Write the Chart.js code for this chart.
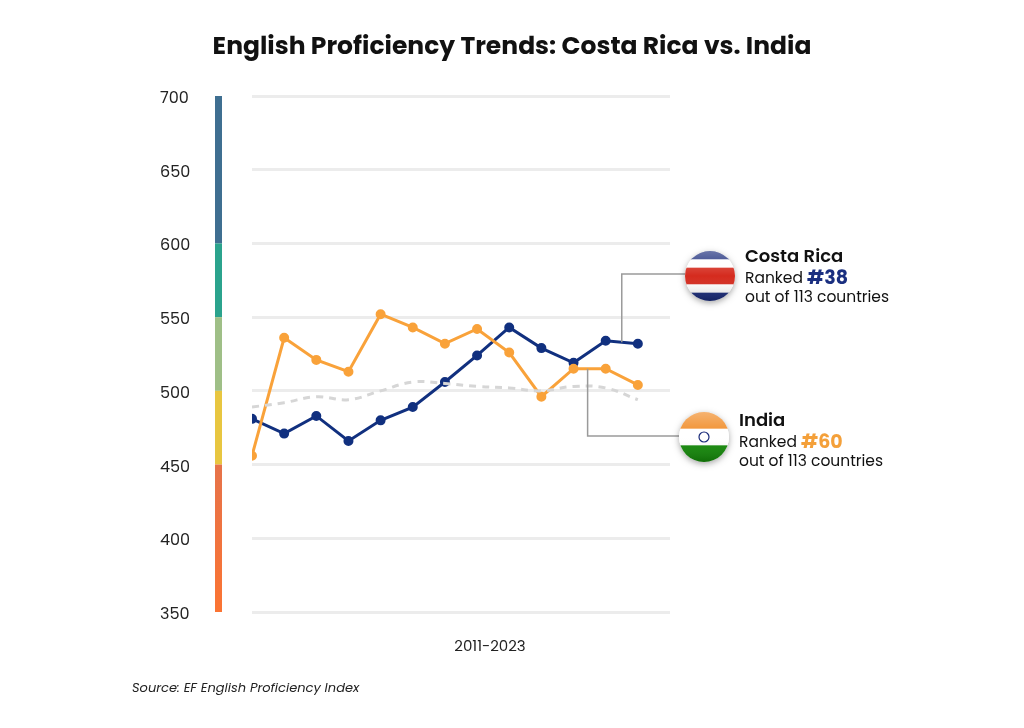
<!DOCTYPE html>
<html><head><meta charset="utf-8">
<script src="https://cdn.jsdelivr.net/npm/chart.js@4/dist/chart.umd.min.js"></script>
<style>html,body{margin:0;background:#fff}#w{width:1024px;height:728px}</style>
</head><body><div id="w"><canvas id="c"></canvas></div>
<script>
const years = ["2011","2012","2013","2014","2015","2016","2017","2018","2019","2020","2021","2022","2023"];
const costaRica = [481,471,483,466,480,489,506,524,543,529,519,534,532];
const india = [456,536,521,513,552,543,532,542,526,496,515,515,504];
const average = [489,492,496,494,500,506,505,503,502,500,503,502,494];
const yTicks = [350,400,450,500,550,600,650,700];
const bands = [[600,700,"#3f6f91"],[550,600,"#2ba38d"],[500,550,"#9fbf87"],[450,500,"#e8c640"],[350,450,"grad"]];
const F = "Poppins, Inter, 'Open Sans', sans-serif";
const pts = a => a.map((v,i)=>({x:i,y:v}));

function flag(ctx,cx,cy,r,stripes){
  ctx.save();ctx.shadowColor="rgba(0,0,0,0.35)";ctx.shadowBlur=6;ctx.shadowOffsetY=2;
  ctx.beginPath();ctx.arc(cx,cy,r,0,Math.PI*2);ctx.fillStyle="#fff";ctx.fill();ctx.restore();
  ctx.save();ctx.beginPath();ctx.arc(cx,cy,r,0,Math.PI*2);ctx.clip();
  let y=cy-r;const tot=stripes.reduce((s,a)=>s+a[0],0);
  for(const [h,c] of stripes){const hh=2*r*h/tot;ctx.fillStyle=c;ctx.fillRect(cx-r,y,2*r,hh+0.5);y+=hh;}
  const g=ctx.createLinearGradient(cx,cy-r,cx,cy+r);
  g.addColorStop(0,"rgba(255,255,255,0.35)");g.addColorStop(0.5,"rgba(255,255,255,0)");g.addColorStop(1,"rgba(0,0,0,0.2)");
  ctx.fillStyle=g;ctx.fillRect(cx-r,cy-r,2*r,2*r);ctx.restore();
}

const deco = {id:"deco",
 beforeDatasetsDraw(ch){
  const c=ch.ctx,y=ch.scales.y;
  for(const [a,b,col] of bands){
    const t=y.getPixelForValue(b),bt=y.getPixelForValue(a);
    let fs=col;
    if(col==="grad"){fs=c.createLinearGradient(0,t,0,bt);fs.addColorStop(0,"#e6734a");fs.addColorStop(1,"#fb7433");}
    c.fillStyle=fs;c.fillRect(215,t,7,bt-t);
  }
  c.fillStyle="#222";c.font="16px "+F;c.textAlign="left";c.textBaseline="middle";
  for(const t of yTicks)c.fillText(String(t),160,y.getPixelForValue(t)+3);
 },
 afterDatasetsDraw(ch){
  const c=ch.ctx,x=ch.scales.x,y=ch.scales.y;
  c.save();
  c.fillStyle="#111";c.font="bold 25px "+F;c.textAlign="center";c.textBaseline="middle";
  c.fillText("English Proficiency Trends: Costa Rica vs. India",512,48);
  c.font="15px "+F;c.fillStyle="#222";c.fillText("2011-2023",490,647);
  c.font="italic 13px "+F;c.textAlign="left";c.fillText("Source: EF English Proficiency Index",132,689);
  c.strokeStyle="#9a9a9a";c.lineWidth=1.5;
  const crx=(x.getPixelForValue(11)+x.getPixelForValue(12))/2, cry=y.getPixelForValue(533);
  c.beginPath();c.moveTo(crx,cry);c.lineTo(crx,274);c.lineTo(690,274);c.stroke();
  const inx=(x.getPixelForValue(10)+x.getPixelForValue(11))/2, iny=y.getPixelForValue(515);
  c.beginPath();c.moveTo(inx-2,iny);c.lineTo(inx-2,436);c.lineTo(685,436);c.stroke();
  flag(c,710,276,25,[[1,"#1a2b7a"],[1,"#fff"],[2,"#d52b1e"],[1,"#fff"],[1,"#1a2b7a"]]);
  flag(c,704,437,25,[[1,"#f08a24"],[1,"#fff"],[1,"#138808"]]);
  c.strokeStyle="#1a2b7a";c.lineWidth=1.2;c.beginPath();c.arc(704,437,5,0,Math.PI*2);c.stroke();
  c.textBaseline="alphabetic";c.textAlign="left";
  c.fillStyle="#111";c.font="600 18px "+F;c.fillText("Costa Rica",745,262);
  c.font="15.5px "+F;c.fillText("Ranked ",745,283);
  let w=c.measureText("Ranked ").width;c.font="bold 19px "+F;c.fillStyle="#1a2f80";c.fillText("#38",745+w,284);
  c.fillStyle="#111";c.font="15.5px "+F;c.fillText("out of 113 countries",745,302);
  c.font="600 18px "+F;c.fillText("India",739,426);
  c.font="15.5px "+F;c.fillText("Ranked ",739,447);
  w=c.measureText("Ranked ").width;c.font="bold 19px "+F;c.fillStyle="#f4a03a";c.fillText("#60",739+w,448);
  c.fillStyle="#111";c.font="15.5px "+F;c.fillText("out of 113 countries",739,466);
  c.restore();
 }};

new Chart(document.getElementById("c"),{
 type:"line",
 data:{datasets:[
  {label:"Average",data:pts(average),borderColor:"#d6d6d6",borderDash:[7,6],borderWidth:3,pointRadius:0,tension:0.4,fill:false},
  {label:"India",data:pts(india),borderColor:"#f9a23a",backgroundColor:"#f9a23a",borderWidth:3,pointRadius:3.5,tension:0},
  {label:"Costa Rica",data:pts(costaRica),borderColor:"#11307f",backgroundColor:"#11307f",borderWidth:3,pointRadius:3.5,tension:0}
 ]},
 plugins:[deco],
 options:{responsive:true,maintainAspectRatio:false,animation:false,
  layout:{padding:{left:252,right:354,top:96,bottom:116}},
  plugins:{legend:{display:false},tooltip:{enabled:false}},
  scales:{
   x:{type:"linear",min:0,max:13,display:false},
   y:{min:350,max:700,ticks:{display:false,stepSize:50},border:{display:false},grid:{color:"#ececec",lineWidth:3,drawTicks:false}}
  }}
});
</script></body></html>
